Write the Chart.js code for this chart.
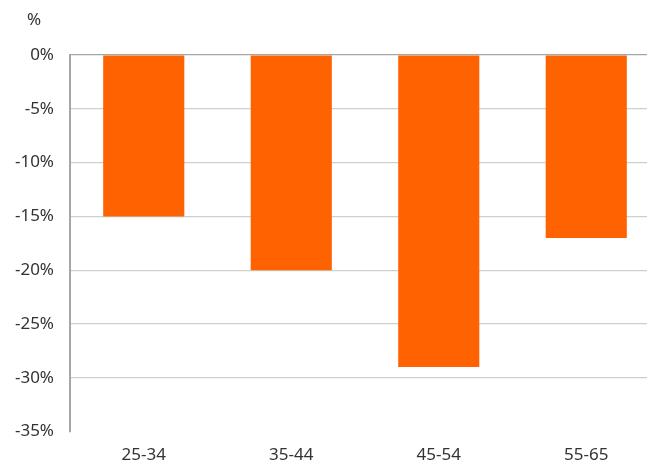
<!DOCTYPE html>
<html>
<head>
<meta charset="utf-8">
<script src="https://cdn.jsdelivr.net/npm/chart.js@4"></script>
<style>
  html, body { margin: 0; padding: 0; background: #fff; overflow: hidden; }
  #wrap { position: relative; width: 660px; height: 478px; }
</style>
</head>
<body>
<div id="wrap"><canvas id="c"></canvas></div>
<script>
const categories = ['25-34', '35-44', '45-54', '55-65'];
const values = [-15, -20, -29, -17];
const unitLabel = '%';

const FONT = '"Noto Sans", sans-serif';

// Draws the unit label above the y-axis tick labels
const unitPlugin = {
  id: 'unitLabel',
  afterDraw(chart) {
    const ctx = chart.ctx;
    ctx.save();
    ctx.font = '17px ' + FONT;
    ctx.fillStyle = '#333';
    ctx.textAlign = 'center';
    ctx.textBaseline = 'middle';
    ctx.fillText(unitLabel, 34, 20);
    ctx.restore();
  }
};

new Chart(document.getElementById('c'), {
  type: 'bar',
  data: {
    labels: categories,
    datasets: [{
      data: values,
      backgroundColor: '#FF6200',
      borderWidth: 0,
      barPercentage: 0.55,
      categoryPercentage: 1
    }]
  },
  options: {
    responsive: true,
    maintainAspectRatio: false,
    animation: false,
    layout: { padding: { top: 55, right: 0, bottom: 0, left: 0 } },
    plugins: { legend: { display: false }, tooltip: { enabled: false } },
    scales: {
      x: {
        grid: { display: false, drawTicks: false },
        border: { display: false },
        ticks: { color: '#333', font: { family: FONT, size: 17 }, padding: 13 }
      },
      y: {
        min: -35,
        max: 0,
        afterFit(scale) { scale.width = 70; },
        ticks: {
          stepSize: 5,
          color: '#333',
          padding: 16,
          font: { family: FONT, size: 17 },
          callback: v => v + '%'
        },
        grid: {
          drawTicks: false,
          lineWidth: 1.2,
          color: ctx => {
            const v = ctx.tick && ctx.tick.value;
            if (v === -35) return 'rgba(0,0,0,0)';
            if (v === 0) return '#a6a6a6';
            return '#cfcfcf';
          }
        },
        border: { display: true, color: '#a6a6a6', width: 2 }
      }
    }
  },
  plugins: [unitPlugin]
});
</script>
</body>
</html>
